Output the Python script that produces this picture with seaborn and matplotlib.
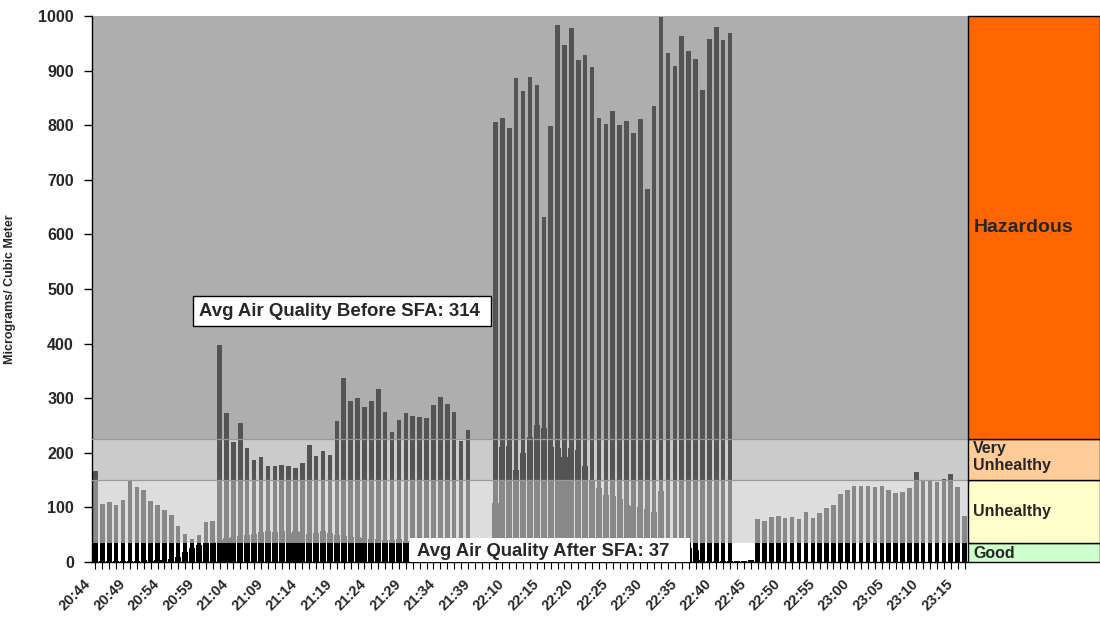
import numpy as np
import pandas as pd
import matplotlib
matplotlib.use("Agg")
import matplotlib.pyplot as plt
import matplotlib.transforms as mtransforms
from matplotlib.patches import Rectangle
import seaborn as sns

sns.set_theme(style="white")
plt.rcParams["font.family"] = ["Liberation Sans", "DejaVu Sans"]
plt.rcParams["font.weight"] = "bold"

nan = np.nan

# minute stamps of the two sampling sessions
session_starts = ["20:44", "22:06"]
session_lengths = [56, 71]
times = []
for start, length in zip(session_starts, session_lengths):
    stamps = pd.date_range(f"2000-01-01 {start}", periods=length, freq="min")
    times += [t.strftime("%H:%M") for t in stamps]

# particulate readings, micrograms per cubic meter
before_sfa = [
    167, 106, 110, 104, 113, 151, 137, 131, 112, 104,
    95, 86, 66, 52, 43, 49, 73, 75, 397, 273,
    219, 255, 209, 187, 193, 176, 175, 178, 176, 173,
    181, 215, 195, 203, 196, 259, 337, 294, 301, 283,
    295, 317, 275, 239, 260, 273, 267, 265, 264, 287,
    302, 289, 275, 222, 241,
    nan, nan, nan,
    806, 813, 795, 887, 863, 889, 874, 631, 798, 984,
    946, 978, 919, 929, 907, 814, 802, 826, 800, 808,
    785, 812, 684, 835, 999, 933, 908, 964, 936, 922,
    864, 958, 980, 956, 969,
    nan, nan, nan,
    78, 76, 82, 85, 81, 82, 79, 91, 81, 89,
    98, 104, 125, 132, 139, 139, 140, 138, 140, 132,
    126, 129, 135, 165, 148, 148, 147, 152, 161, 137,
    84,
]
after_sfa = [
    2, 1, 2, 1, 2, 1, 2, 3, 2, 3,
    4, 6, 10, 19, 25, 31, 35, 37, 40, 44,
    46, 47, 50, 52, 55, 56, 55, 57, 54, 56,
    55, 52, 54, 56, 53, 50, 47, 45, 46, 44,
    42, 43, 41, 40, 42, 39, 38, 40, 37, 38,
    36, 38, 37, 36, 38,
    nan, nan, nan,
    108, 211, 212, 168, 199, 229, 251, 245, 211, 209,
    193, 209, 205, 175, 150, 135, 123, 120, 115, 104,
    102, 101, 97, 92, 130, 34, 30, 28, 25, 22,
    3, 2, 2, 2, 2,
    1, 1, 3,
] + [nan] * 31

avg_before = 314
avg_after = 37

# air-quality categories: limits, plot shading, bar shade, key colour
band_names = ["Good", "Unhealthy", "Very\nUnhealthy", "Hazardous"]
band_limits = [0, 35, 150, 225, 1000]
band_bg = ["#ffffff", "#dddddd", "#cbcbcb", "#aeaeae"]
band_bar = ["#000000", "#888888", "#545454", "#545454"]
band_key = ["#ccffcc", "#ffffcc", "#ffcc99", "#ff6600"]

n = len(times)
W, H = 1100, 624
fig = plt.figure(figsize=(W / 100, H / 100), dpi=100)
fig.patch.set_facecolor("white")

left, right, top, bottom = 92, 968, 16, 562
ax = fig.add_axes([left / W, 1 - bottom / H, (right - left) / W, (bottom - top) / H])
ax.set_facecolor("white")

before_df = pd.DataFrame({"time": times, "value": before_sfa}).dropna()
after_df = pd.DataFrame({"time": times, "value": after_sfa}).dropna()


def draw_series(df, width, color, clip, z):
    start = len(ax.patches)
    sns.barplot(data=df, x="time", y="value", order=times, width=width,
                color=color, saturation=1, errorbar=None, ax=ax,
                linewidth=0, zorder=z)
    for p in ax.patches[start:]:
        p.set_clip_path(clip)


for i in range(len(band_names)):
    lo, hi = band_limits[i], band_limits[i + 1]
    ax.axhspan(lo, hi, color=band_bg[i], zorder=0, linewidth=0)
    clip = Rectangle((-0.5, lo), n, hi - lo, transform=ax.transData)
    draw_series(after_df, 0.88, band_bar[i], clip, 1)
    draw_series(before_df, 0.66, band_bar[i], clip, 2)

for lim in band_limits[2:4]:
    ax.axhline(lim, color="#999999", lw=0.9, zorder=3)

ax.set_xlim(-0.5, n - 0.5)
ax.set_ylim(0, 1000)

# axes, ticks and labels
for side in ["top", "right"]:
    ax.spines[side].set_visible(False)
for side in ["left", "bottom"]:
    ax.spines[side].set_color("black")
    ax.spines[side].set_linewidth(1.0)

ax.tick_params(axis="y", left=True, length=6, width=1, pad=7, color="black")
ax.tick_params(axis="x", bottom=True, length=5, width=0.8, color="black", labelbottom=False)
ax.set_yticks(range(0, 1001, 100))
ax.set_yticklabels([str(v) for v in range(0, 1001, 100)], fontsize=11.5, fontweight="bold")
ax.set_xticks(range(n))

# slanted time labels every fifth reading
label_trans = mtransforms.blended_transform_factory(ax.transData, ax.transAxes) + \
    mtransforms.ScaledTranslation(-2 / 100, -15 / 100, fig.dpi_scale_trans)
for i in range(0, n, 5):
    ax.text(i, 0, times[i], transform=label_trans, rotation=45.0,
            ha="right", va="top", fontsize=10.5, fontweight="bold", clip_on=False)

ax.set_xlabel("")
ax.set_ylabel("Micrograms/ Cubic Meter", fontsize=9, fontweight="bold")
ax.yaxis.set_label_coords((16 - left) / (right - left), 0.5)

# average annotations
ax.add_patch(Rectangle(((193 - left) / 876, (bottom - 326) / 546), (491 - 193) / 876, 30 / 546,
                       transform=ax.transAxes, facecolor="white", edgecolor="black",
                       lw=1, zorder=6, clip_on=False))
ax.text((199 - left) / 876, (bottom - 311) / 546, f"Avg Air Quality Before SFA: {avg_before}",
        transform=ax.transAxes, ha="left", va="center", fontsize=13.4, fontweight="bold", zorder=7)
ax.add_patch(Rectangle(((410 - left) / 876, 0), (690 - 410) / 876, 24 / 546,
                       transform=ax.transAxes, facecolor="white", edgecolor="none",
                       zorder=6, clip_on=False))
ax.text((417 - left) / 876, (bottom - 551) / 546, f"Avg Air Quality After SFA: {avg_after}",
        transform=ax.transAxes, ha="left", va="center", fontsize=13.3, fontweight="bold", zorder=7)

# category key on the right
key = fig.add_axes([right / W, 1 - bottom / H, (W - right) / W, (bottom - top) / H], sharey=ax)
key.set_xlim(0, 1)
key.axis("off")
for i, name in enumerate(band_names):
    lo, hi = band_limits[i], band_limits[i + 1]
    key.add_patch(Rectangle((0, lo), 1, hi - lo, facecolor=band_key[i], edgecolor="black",
                            lw=1, clip_on=False))
key.text(0.04, 612, "Hazardous", va="center", ha="left", fontsize=14, fontweight="bold")
key.text(0.04, 222, "Very\nUnhealthy", va="top", ha="left", fontsize=11.5, fontweight="bold",
         linespacing=1.15)
key.text(0.04, 92, "Unhealthy", va="center", ha="left", fontsize=11.5, fontweight="bold")
key.text(0.04, 16, "Good", va="center", ha="left", fontsize=11.5, fontweight="bold")

fig.savefig("out.png", dpi=100, facecolor="white")
